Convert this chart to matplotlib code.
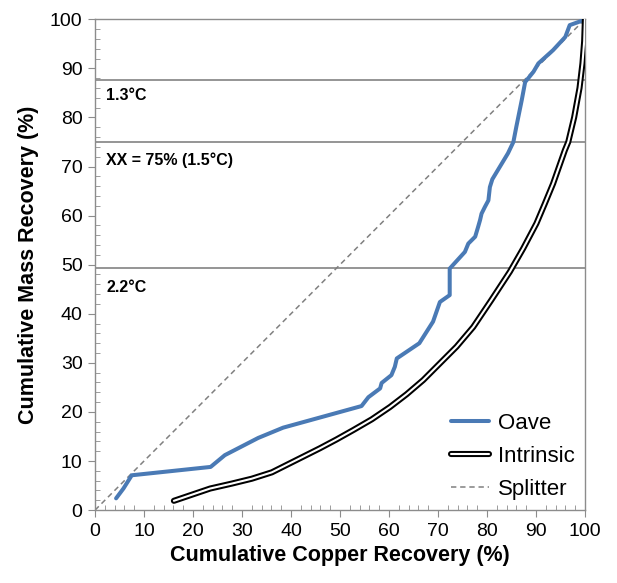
import matplotlib
matplotlib.use("Agg")
import matplotlib.pyplot as plt
import matplotlib.patheffects as pe
from matplotlib.ticker import MultipleLocator

plt.rcParams['font.family'] = ['Liberation Sans', 'DejaVu Sans']

# Oave cumulative recovery curve
oave_cu = [4.3, 5.8, 7.5, 23.6, 26.5, 33.3, 38.4, 54.4, 55.8, 58.2, 58.5, 60.5, 61.2,
           61.6, 66.2, 69.0, 70.4, 72.4, 72.4, 75.5, 76.2, 77.6, 78.2, 78.6, 78.9,
           79.6, 80.3, 80.6, 81.1, 84.3, 85.4, 86.0, 87.1, 87.8, 89.5, 90.5, 93.5,
           96.0, 96.9, 99.7]
oave_mass = [2.4, 4.4, 7.1, 8.8, 11.2, 14.7, 16.8, 21.2, 23.0, 24.8, 25.9, 27.5, 29.2,
             30.9, 34.0, 38.4, 42.4, 43.8, 49.2, 52.6, 54.3, 55.7, 57.7, 59.1, 60.4,
             61.8, 63.1, 65.8, 67.4, 72.7, 75.0, 78.1, 83.5, 87.2, 89.3, 91.0, 93.7,
             96.4, 98.8, 99.8]

# Intrinsic (ideal) separation curve
intr_cu = [16.1, 23.5, 27.9, 32.0, 36.1, 39.1, 42.5, 45.9, 49.3, 52.7, 56.5, 60.2,
           63.6, 67.0, 70.4, 73.8, 77.2, 80.9, 84.7, 87.4, 90.1, 91.8, 93.5, 95.9,
           96.6, 97.8, 98.9, 99.5, 99.85, 100.0]
intr_mass = [1.9, 4.4, 5.4, 6.4, 7.7, 9.2, 10.9, 12.6, 14.4, 16.3, 18.5, 21.0,
             23.6, 26.5, 29.9, 33.3, 37.3, 42.8, 48.6, 53.3, 58.4, 62.4, 66.5, 73.3,
             75.0, 80.0, 86.0, 91.0, 95.5, 100.0]

# Splitter (no separation) line
split_cu = [0, 100]
split_mass = [0, 100]

# Temperature cut levels
cut_levels = [87.6, 75.0, 49.3]
cut_labels = ["1.3°C", "XX = 75% (1.5°C)", "2.2°C"]
cut_label_y = [84.5, 71.3, 45.4]

fig = plt.figure(figsize=(6.17, 5.83), dpi=100)
ax = fig.add_axes([0.154, 0.125, 0.794, 0.842])

grey = '#8c8c8c'
for lvl in cut_levels:
    ax.axhline(lvl, color=grey, lw=1.3, zorder=1)
for lab, yy in zip(cut_labels, cut_label_y):
    ax.text(2.3, yy, lab, fontsize=11.5, fontweight='bold', va='center', ha='left')

ax.plot(oave_cu, oave_mass, color='#4a7ab5', lw=2.9, solid_joinstyle='round',
        solid_capstyle='round', label='Oave', zorder=3)
ax.plot(intr_cu, intr_mass, color='white', lw=1.5, solid_capstyle='round',
        solid_joinstyle='round',
        path_effects=[pe.Stroke(linewidth=4.4, foreground='black', capstyle='round',
                                joinstyle='round'),
                      pe.Normal()],
        label='Intrinsic', zorder=3)
ax.plot(split_cu, split_mass, color='#808080', lw=1.1, ls=(0, (3.5, 2.5)),
        label='Splitter', zorder=2)

ax.set_xlim(0, 100)
ax.set_ylim(0, 100)
ax.xaxis.set_major_locator(MultipleLocator(10))
ax.yaxis.set_major_locator(MultipleLocator(10))
ax.xaxis.set_minor_locator(MultipleLocator(2))
ax.yaxis.set_minor_locator(MultipleLocator(2))
ax.tick_params(which='major', direction='out', length=5, color=grey, labelsize=14, pad=4)
ax.tick_params(which='minor', direction='in', length=3.5, color=grey)
for s in ax.spines.values():
    s.set_color(grey)
    s.set_linewidth(1.0)

ax.set_xlabel('Cumulative Copper Recovery (%)', fontsize=15.5, fontweight='bold', labelpad=4)
ax.set_ylabel('Cumulative Mass Recovery (%)', fontsize=15.5, fontweight='bold', labelpad=8)

leg = ax.legend(loc='lower right', bbox_to_anchor=(1.0, 0.0), frameon=False,
                fontsize=16, handlelength=1.7, handletextpad=0.4, labelspacing=0.55,
                borderaxespad=0.05)

fig.savefig('out.png', dpi=100, facecolor='white')
